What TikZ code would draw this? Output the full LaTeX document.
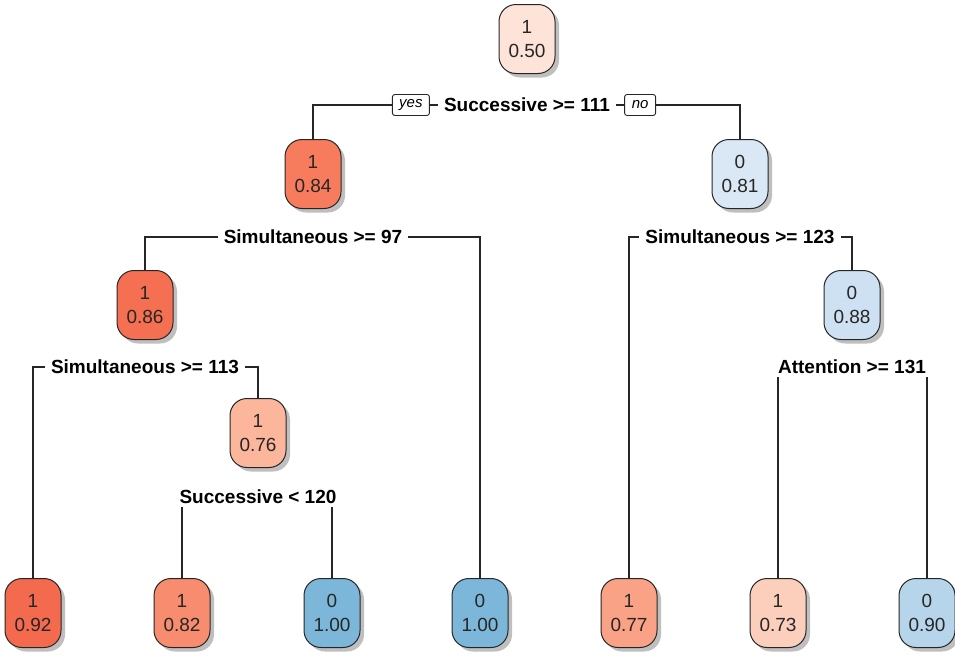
\documentclass[tikz,border=0pt]{standalone}
\usepackage{fontspec}
\setmainfont{Liberation Sans}
\usetikzlibrary{shadows,positioning}

% node fills, from strong red (class 1) to strong blue (class 0)
\definecolor{c092}{RGB}{244,106,78}
\definecolor{c086}{RGB}{245,112,82}
\definecolor{c084}{RGB}{247,124,94}
\definecolor{c082}{RGB}{248,140,110}
\definecolor{c077}{RGB}{250,162,134}
\definecolor{c076}{RGB}{251,182,156}
\definecolor{c073}{RGB}{252,207,188}
\definecolor{c050}{RGB}{253,227,216}
\definecolor{c081}{RGB}{218,232,245}
\definecolor{c088}{RGB}{205,225,242}
\definecolor{c090}{RGB}{183,213,234}
\definecolor{c100}{RGB}{124,183,217}

\tikzset{
  tnode/.style={draw=black!85, line width=1pt, rounded corners=17pt,
    minimum width=56pt, minimum height=69pt, inner sep=0pt, align=center,
    text=black!85, font=\fontsize{19}{24}\selectfont,
    drop shadow={shadow xshift=4pt, shadow yshift=-4pt, fill=black, opacity=0.25}},
  splitlab/.style={fill=white, inner xsep=6pt, inner ysep=3pt,
    font=\bfseries\fontsize{19}{22}\selectfont},
  ynbox/.style={draw=black!85, line width=0.9pt, fill=white, rounded corners=2.5pt,
    minimum width=37pt, minimum height=21pt, inner sep=2pt,
    font=\itshape\fontsize{15}{17}\selectfont},
  edge/.style={draw=black!85, line width=1.1pt},
}

\begin{document}
\begin{tikzpicture}[x=1pt,y=-1pt]
\useasboundingbox (0,0) rectangle (955,659);

% tree nodes
\node[tnode, fill=c050] (n1) at (527,39)  {1\\0.50};
\node[tnode, fill=c084] (n2) at (313,174) {1\\0.84};
\node[tnode, fill=c081] (n3) at (740,174) {0\\0.81};
\node[tnode, fill=c086] (n4) at (145,305) {1\\0.86};
\node[tnode, fill=c088] (n7) at (852,305) {0\\0.88};
\node[tnode, fill=c076] (n9) at (258,433) {1\\0.76};

\node[tnode, fill=c092] (l1) at (33,613)  {1\\0.92};
\node[tnode, fill=c082] (l2) at (182,613) {1\\0.82};
\node[tnode, fill=c100] (l3) at (332,613) {0\\1.00};
\node[tnode, fill=c100] (l4) at (480,613) {0\\1.00};
\node[tnode, fill=c077] (l5) at (629,613) {1\\0.77};
\node[tnode, fill=c073] (l6) at (778,613) {1\\0.73};
\node[tnode, fill=c090] (l7) at (927,613) {0\\0.90};

% split positions
\coordinate (s1) at (527,105);
\coordinate (s2) at (313,237);
\coordinate (s3) at (740,237);
\coordinate (s4) at (145,367);
\coordinate (s7) at (852,367);
\coordinate (s9) at (258,497);

% branches
\draw[edge] (n2.north) |- (s1) -| (n3.north);
\draw[edge] (n4.north) |- (s2) -| (l4.north);
\draw[edge] (l5.north) |- (s3) -| (n7.north);
\draw[edge] (l1.north) |- (s4) -| (n9.north);
\draw[edge] (l6.north) |- (s7) -| (l7.north);
\draw[edge] (l2.north) |- (s9) -| (l3.north);

% split labels
\node[splitlab] (lab1) at (s1) {Successive >= 111};
\node[splitlab] (lab2) at (s2) {Simultaneous >= 97};
\node[splitlab] (lab3) at (s3) {Simultaneous >= 123};
\node[splitlab] (lab4) at (s4) {Simultaneous >= 113};
\node[splitlab] (lab7) at (s7) {Attention >= 131};
\node[splitlab] (lab9) at (s9) {Successive < 120};

\node[ynbox, left=8pt of lab1]  (yes) {yes};
\node[ynbox, right=8pt of lab1, minimum width=31pt] (no) {no};
\end{tikzpicture}
\end{document}
